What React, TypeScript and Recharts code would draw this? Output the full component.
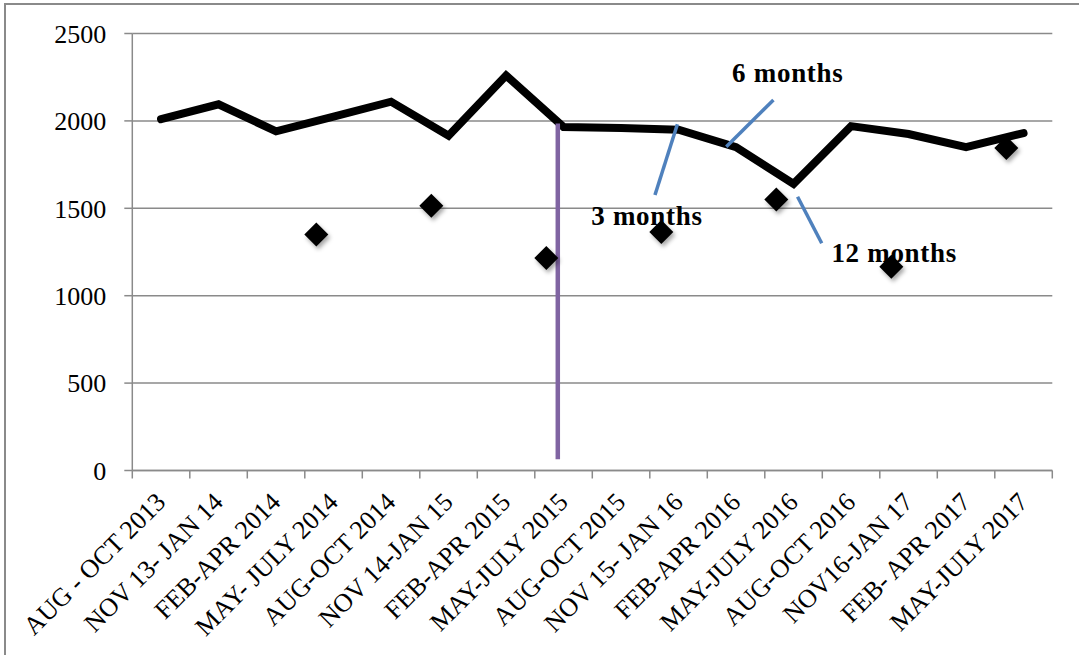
import React from "react";
import {
  ComposedChart,
  Line,
  Scatter,
  XAxis,
  YAxis,
  CartesianGrid,
  ReferenceLine,
  ReferenceDot,
} from "recharts";

// quarterly periods on the category axis
const periods = [
  "AUG - OCT 2013",
  "NOV 13- JAN 14",
  "FEB-APR 2014",
  "MAY- JULY 2014",
  "AUG-OCT 2014",
  "NOV 14-JAN 15",
  "FEB-APR 2015",
  "MAY-JULY 2015",
  "AUG-OCT 2015",
  "NOV 15- JAN 16",
  "FEB-APR 2016",
  "MAY-JULY 2016",
  "AUG-OCT 2016",
  "NOV16-JAN 17",
  "FEB- APR 2017",
  "MAY-JULY 2017",
];

// black line: total per period
const totals = [
  2010, 2095, 1940, 2025, 2110, 1915, 2260, 1965, 1960, 1950, 1850, 1640, 1970,
  1925, 1850, 1930,
];

// diamond markers: period number (1-based) and value
const markerPeriods = [4, 6, 8, 10, 12, 14, 16];
const markerValues = [1350, 1515, 1215, 1365, 1550, 1165, 1845];

const yTicks = [0, 500, 1000, 1500, 2000, 2500];

// intervention marker (purple) and follow-up callouts, in period / value units
const intervention = { x: 8.2, from: 65, to: 1985 };
const callouts = [
  { text: "3 months", from: [9.89, 1576], to: [10.28, 1981], at: [9.75, 1462] },
  { text: "6 months", from: [11.13, 1852], to: [11.95, 2120], at: [12.2, 2280] },
  { text: "12 months", from: [12.37, 1566], to: [12.79, 1300], at: [14.05, 1250] },
];

const lineData = periods.map((period, i) => ({ period, total: totals[i] }));
const markerData = markerPeriods.map((p, i) => ({ p, value: markerValues[i] }));

const SERIF = "'Liberation Serif', 'Times New Roman', serif";
const GRID = "#8a8a8a";

function PeriodTick(props: any) {
  const { x, y, payload, index } = props;
  const half = payload.offset ?? 0;
  const last = index === periods.length - 1;
  const ax = x + 6;
  const ay = y + 33;
  return (
    <g>
      <line x1={x - half} x2={x - half} y1={y} y2={y + 8} stroke={GRID} strokeWidth={1.5} />
      {last && (
        <line x1={x + half} x2={x + half} y1={y} y2={y + 8} stroke={GRID} strokeWidth={1.5} />
      )}
      <text
        x={ax}
        y={ay}
        textAnchor="end"
        transform={`rotate(-45 ${ax} ${ay})`}
        fontFamily={SERIF}
        fontSize={26}
        fill="#000"
      >
        {payload.value}
      </text>
    </g>
  );
}

function Diamond(props: any) {
  const { cx, cy } = props;
  const r = 12;
  return (
    <polygon
      points={`${cx},${cy - r} ${cx + r},${cy} ${cx},${cy + r} ${cx - r},${cy}`}
      fill="#000"
      filter="url(#markShadow)"
    />
  );
}

export default function App() {
  return (
    <div
      style={{
        position: "absolute",
        left: 0,
        top: 0,
        width: 1079,
        height: 655,
        overflow: "hidden",
        background: "#fff",
      }}
    >
      <svg width={0} height={0} style={{ position: "absolute" }}>
        <defs>
          <filter id="markShadow" x="-50%" y="-50%" width="200%" height="200%">
            <feDropShadow dx="2" dy="3" stdDeviation="2" floodColor="#000" floodOpacity="0.35" />
          </filter>
        </defs>
      </svg>
      <div
        style={{
          position: "absolute",
          left: 4,
          top: 3,
          width: 1200,
          height: 800,
          border: `2px solid ${GRID}`,
        }}
      />
      <div style={{ position: "absolute", left: 0, top: 0 }}>
        <ComposedChart
          width={1079}
          height={655}
          data={lineData}
          margin={{ top: 33.5, right: 26.7, bottom: 34.5, left: 52.3 }}
        >
          <CartesianGrid vertical={false} stroke={GRID} strokeWidth={1.5} />
          <XAxis
            dataKey="period"
            scale="band"
            interval={0}
            height={150}
            tickLine={false}
            tickSize={0}
            tickMargin={0}
            axisLine={{ stroke: GRID, strokeWidth: 1.5 }}
            tick={<PeriodTick />}
          />
          <XAxis
            xAxisId="pos"
            type="number"
            dataKey="p"
            domain={[0.8, 16.8]}
            allowDataOverflow
            hide
            height={0}
          />
          <YAxis
            width={80}
            domain={[0, 2500]}
            ticks={yTicks}
            interval={0}
            tickSize={8}
            tickMargin={18}
            axisLine={{ stroke: GRID, strokeWidth: 1.5 }}
            tickLine={{ stroke: GRID, strokeWidth: 1.5 }}
            tick={{ fill: "#000", fontSize: 26, fontFamily: SERIF }}
          />
          <Line
            dataKey="total"
            stroke="#000"
            strokeWidth={8}
            strokeLinecap="round"
            strokeLinejoin="miter"
            dot={false}
            activeDot={false}
            isAnimationActive={false}
          />
          <Scatter
            xAxisId="pos"
            data={markerData}
            dataKey="value"
            shape={<Diamond />}
            isAnimationActive={false}
          />
          <ReferenceLine
            xAxisId="pos"
            segment={[
              { x: intervention.x, y: intervention.from },
              { x: intervention.x, y: intervention.to },
            ]}
            stroke="#8064A2"
            strokeWidth={4.5}
            ifOverflow="visible"
          />
          {callouts.map((c) => (
            <ReferenceLine
              key={c.text}
              xAxisId="pos"
              segment={[
                { x: c.from[0], y: c.from[1] },
                { x: c.to[0], y: c.to[1] },
              ]}
              stroke="#4F81BD"
              strokeWidth={3.5}
              ifOverflow="visible"
            />
          ))}
          {callouts.map((c) => (
            <ReferenceDot
              key={c.text + "-label"}
              xAxisId="pos"
              x={c.at[0]}
              y={c.at[1]}
              r={0}
              fill="none"
              stroke="none"
              ifOverflow="visible"
              label={{
                value: c.text,
                position: "center",
                fill: "#000",
                fontSize: 27,
                fontWeight: "bold",
                fontFamily: SERIF,
                letterSpacing: 0.7,
              }}
            />
          ))}
        </ComposedChart>
      </div>
    </div>
  );
}
